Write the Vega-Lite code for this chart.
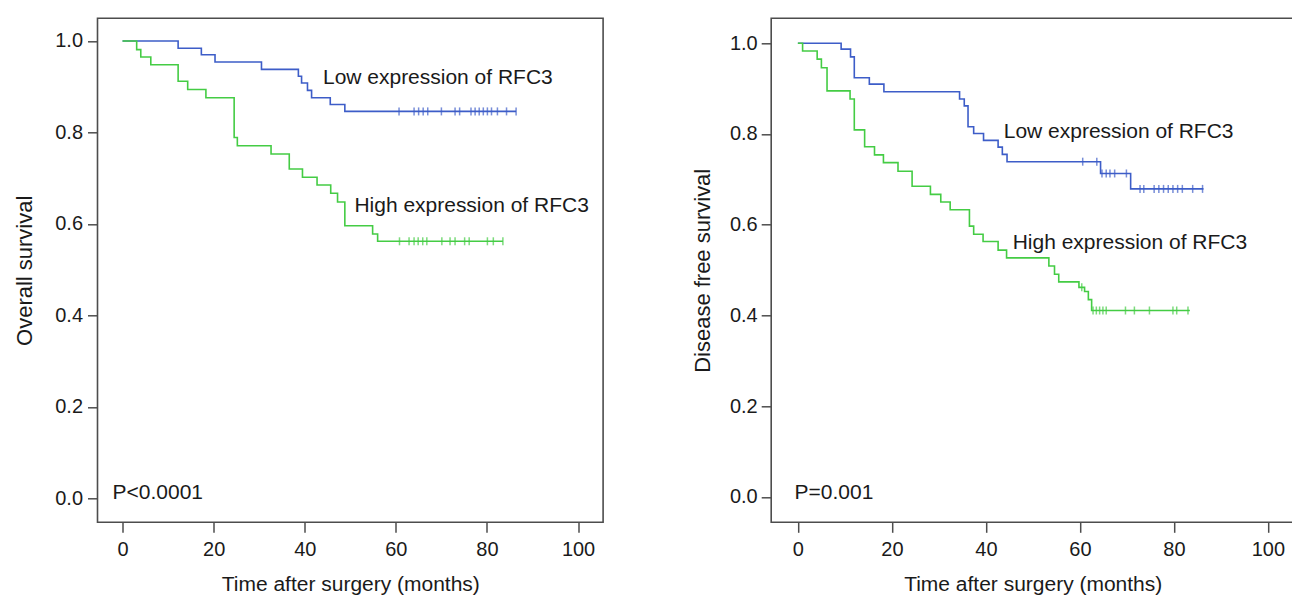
{
  "$schema": "https://vega.github.io/schema/vega-lite/v6.json",
  "background": "white",
  "padding": {"left": 12.5, "top": 17.3, "right": 0, "bottom": 0},
  "bounds": "flush",
  "spacing": 167.7,
  "config": {
    "font": "Liberation Sans",
    "view": {"stroke": "#4d4d4d", "strokeWidth": 1.6},
    "axis": {
      "domain": false, "grid": false,
      "tickColor": "#4d4d4d", "tickWidth": 1.5, "tickSize": 10,
      "labelFont": "Liberation Sans", "labelFontSize": 20, "labelColor": "#1a1a1a",
      "titleFont": "Liberation Sans", "titleFontSize": 21, "titleFontWeight": "normal", "titleColor": "#1a1a1a"
    }
  },
  "datasets": {
    "os_curve": [
      {"group": "Low", "t": 0, "s": 1.0}, {"group": "Low", "t": 12.2, "s": 0.984}, {"group": "Low", "t": 17.3, "s": 0.970},
      {"group": "Low", "t": 20.3, "s": 0.954}, {"group": "Low", "t": 30.5, "s": 0.938}, {"group": "Low", "t": 38.6, "s": 0.923},
      {"group": "Low", "t": 39.3, "s": 0.908}, {"group": "Low", "t": 40.6, "s": 0.892}, {"group": "Low", "t": 41.5, "s": 0.876},
      {"group": "Low", "t": 45.6, "s": 0.861}, {"group": "Low", "t": 48.8, "s": 0.846}, {"group": "Low", "t": 86.4, "s": 0.846},
      {"group": "High", "t": 0, "s": 1.0}, {"group": "High", "t": 3.1, "s": 0.981}, {"group": "High", "t": 4.0, "s": 0.965},
      {"group": "High", "t": 6.2, "s": 0.948}, {"group": "High", "t": 12.2, "s": 0.912}, {"group": "High", "t": 14.3, "s": 0.894},
      {"group": "High", "t": 18.3, "s": 0.876}, {"group": "High", "t": 24.5, "s": 0.789}, {"group": "High", "t": 25.2, "s": 0.771},
      {"group": "High", "t": 32.6, "s": 0.753}, {"group": "High", "t": 36.6, "s": 0.720}, {"group": "High", "t": 39.5, "s": 0.702},
      {"group": "High", "t": 42.7, "s": 0.685}, {"group": "High", "t": 45.7, "s": 0.667}, {"group": "High", "t": 47.2, "s": 0.648},
      {"group": "High", "t": 48.8, "s": 0.596}, {"group": "High", "t": 54.9, "s": 0.578}, {"group": "High", "t": 56.0, "s": 0.562},
      {"group": "High", "t": 83.5, "s": 0.562}
    ],
    "os_censor": [
      {"group": "Low", "t": 60.7, "s": 0.846}, {"group": "Low", "t": 64.0, "s": 0.846}, {"group": "Low", "t": 65.0, "s": 0.846},
      {"group": "Low", "t": 66.0, "s": 0.846}, {"group": "Low", "t": 67.0, "s": 0.846}, {"group": "Low", "t": 70.0, "s": 0.846},
      {"group": "Low", "t": 73.0, "s": 0.846}, {"group": "Low", "t": 74.0, "s": 0.846}, {"group": "Low", "t": 76.5, "s": 0.846},
      {"group": "Low", "t": 77.4, "s": 0.846}, {"group": "Low", "t": 78.3, "s": 0.846}, {"group": "Low", "t": 79.2, "s": 0.846},
      {"group": "Low", "t": 80.1, "s": 0.846}, {"group": "Low", "t": 81.0, "s": 0.846}, {"group": "Low", "t": 82.3, "s": 0.846},
      {"group": "Low", "t": 84.3, "s": 0.846}, {"group": "Low", "t": 86.4, "s": 0.846},
      {"group": "High", "t": 60.8, "s": 0.562}, {"group": "High", "t": 62.9, "s": 0.562}, {"group": "High", "t": 64.0, "s": 0.562},
      {"group": "High", "t": 64.9, "s": 0.562}, {"group": "High", "t": 65.9, "s": 0.562}, {"group": "High", "t": 66.8, "s": 0.562},
      {"group": "High", "t": 70.1, "s": 0.562}, {"group": "High", "t": 71.9, "s": 0.562}, {"group": "High", "t": 73.0, "s": 0.562},
      {"group": "High", "t": 75.1, "s": 0.562}, {"group": "High", "t": 76.1, "s": 0.562}, {"group": "High", "t": 80.1, "s": 0.562},
      {"group": "High", "t": 81.4, "s": 0.562}, {"group": "High", "t": 83.5, "s": 0.562}
    ],
    "os_text": [
      {"label": "Low expression of RFC3", "t": 44.0, "s": 0.905},
      {"label": "High expression of RFC3", "t": 50.9, "s": 0.625},
      {"label": "P<0.0001", "t": -2.2, "s": -0.002}
    ],
    "dfs_curve": [
      {"group": "Low", "t": 0, "s": 1.0}, {"group": "Low", "t": 9.2, "s": 0.987}, {"group": "Low", "t": 11.2, "s": 0.970},
      {"group": "Low", "t": 12.0, "s": 0.924}, {"group": "Low", "t": 15.2, "s": 0.910}, {"group": "Low", "t": 18.3, "s": 0.893},
      {"group": "Low", "t": 34.4, "s": 0.877}, {"group": "Low", "t": 35.4, "s": 0.862}, {"group": "Low", "t": 36.2, "s": 0.816},
      {"group": "Low", "t": 37.4, "s": 0.801}, {"group": "Low", "t": 39.5, "s": 0.786}, {"group": "Low", "t": 42.6, "s": 0.771},
      {"group": "Low", "t": 43.5, "s": 0.755}, {"group": "Low", "t": 44.5, "s": 0.739}, {"group": "Low", "t": 64.4, "s": 0.713},
      {"group": "Low", "t": 70.8, "s": 0.679}, {"group": "Low", "t": 86.3, "s": 0.679},
      {"group": "High", "t": 0, "s": 1.0}, {"group": "High", "t": 1.0, "s": 0.983}, {"group": "High", "t": 4.1, "s": 0.965},
      {"group": "High", "t": 5.0, "s": 0.946}, {"group": "High", "t": 6.2, "s": 0.895}, {"group": "High", "t": 11.1, "s": 0.877},
      {"group": "High", "t": 12.0, "s": 0.809}, {"group": "High", "t": 14.2, "s": 0.772}, {"group": "High", "t": 16.3, "s": 0.754},
      {"group": "High", "t": 18.2, "s": 0.737}, {"group": "High", "t": 21.3, "s": 0.718}, {"group": "High", "t": 24.3, "s": 0.685},
      {"group": "High", "t": 28.2, "s": 0.667}, {"group": "High", "t": 30.4, "s": 0.650}, {"group": "High", "t": 32.4, "s": 0.633},
      {"group": "High", "t": 36.5, "s": 0.597}, {"group": "High", "t": 37.4, "s": 0.579}, {"group": "High", "t": 39.4, "s": 0.563},
      {"group": "High", "t": 42.6, "s": 0.544}, {"group": "High", "t": 44.4, "s": 0.527}, {"group": "High", "t": 53.4, "s": 0.509},
      {"group": "High", "t": 54.6, "s": 0.491}, {"group": "High", "t": 55.5, "s": 0.474}, {"group": "High", "t": 59.8, "s": 0.462},
      {"group": "High", "t": 61.0, "s": 0.453}, {"group": "High", "t": 61.8, "s": 0.435}, {"group": "High", "t": 62.5, "s": 0.411},
      {"group": "High", "t": 83.4, "s": 0.411}
    ],
    "dfs_censor": [
      {"group": "Low", "t": 60.6, "s": 0.739}, {"group": "Low", "t": 63.6, "s": 0.739},
      {"group": "Low", "t": 64.7, "s": 0.713}, {"group": "Low", "t": 65.6, "s": 0.713}, {"group": "Low", "t": 66.4, "s": 0.713},
      {"group": "Low", "t": 67.4, "s": 0.713}, {"group": "Low", "t": 69.9, "s": 0.713},
      {"group": "Low", "t": 72.8, "s": 0.679}, {"group": "Low", "t": 73.6, "s": 0.679}, {"group": "Low", "t": 75.8, "s": 0.679},
      {"group": "Low", "t": 76.8, "s": 0.679}, {"group": "Low", "t": 77.8, "s": 0.679}, {"group": "Low", "t": 78.8, "s": 0.679},
      {"group": "Low", "t": 79.8, "s": 0.679}, {"group": "Low", "t": 80.8, "s": 0.679}, {"group": "Low", "t": 81.8, "s": 0.679},
      {"group": "Low", "t": 84.0, "s": 0.679}, {"group": "Low", "t": 86.1, "s": 0.679},
      {"group": "High", "t": 60.4, "s": 0.462},
      {"group": "High", "t": 62.8, "s": 0.411}, {"group": "High", "t": 63.5, "s": 0.411}, {"group": "High", "t": 64.2, "s": 0.411},
      {"group": "High", "t": 64.9, "s": 0.411}, {"group": "High", "t": 65.6, "s": 0.411}, {"group": "High", "t": 69.7, "s": 0.411},
      {"group": "High", "t": 71.6, "s": 0.411}, {"group": "High", "t": 74.8, "s": 0.411}, {"group": "High", "t": 79.8, "s": 0.411},
      {"group": "High", "t": 80.6, "s": 0.411}, {"group": "High", "t": 83.0, "s": 0.411}
    ],
    "dfs_text": [
      {"label": "Low expression of RFC3", "t": 43.8, "s": 0.792},
      {"label": "High expression of RFC3", "t": 45.7, "s": 0.546},
      {"label": "P=0.001", "t": -0.7, "s": -0.005}
    ]
  },
  "hconcat": [
    {
      "width": 505.6,
      "height": 504,
      "encoding": {
        "x": {"field": "t", "type": "quantitative",
          "scale": {"domain": [-5.5, 105.5], "nice": false, "zero": false},
          "axis": {"values": [0, 20, 40, 60, 80, 100], "labelPadding": 7, "titlePadding": 14, "title": "Time after surgery (months)"}},
        "y": {"field": "s", "type": "quantitative",
          "scale": {"domain": [-0.0525, 1.0496], "nice": false, "zero": false},
          "axis": {"values": [0, 0.2, 0.4, 0.6, 0.8, 1.0], "format": ".1f", "labelPadding": 5, "titlePadding": 18, "titleFontSize": 22, "title": "Overall survival"}}
      },
      "layer": [
        {
          "data": {"name": "os_curve"},
          "mark": {"type": "line", "interpolate": "step-after", "strokeWidth": 1.6},
          "encoding": {"color": {"field": "group", "type": "nominal", "scale": {"domain": ["Low", "High"], "range": ["#3D5DC8", "#44CC44"]}, "legend": null}}
        },
        {
          "data": {"name": "os_censor"},
          "mark": {"type": "tick", "orient": "vertical", "size": 8, "thickness": 1.5},
          "encoding": {"color": {"field": "group", "type": "nominal", "scale": {"domain": ["Low", "High"], "range": ["#3D5DC8", "#44CC44"]}, "legend": null}}
        },
        {
          "data": {"name": "os_text"},
          "mark": {"type": "text", "align": "left", "baseline": "alphabetic", "fontSize": 21, "color": "#1a1a1a"},
          "encoding": {"text": {"field": "label", "type": "nominal"}}
        }
      ]
    },
    {
      "width": 523,
      "height": 504,
      "encoding": {
        "x": {"field": "t", "type": "quantitative",
          "scale": {"domain": [-5.68, 105.6], "nice": false, "zero": false},
          "axis": {"values": [0, 20, 40, 60, 80, 100], "labelPadding": 7, "titlePadding": 14, "title": "Time after surgery (months)"}},
        "y": {"field": "s", "type": "quantitative",
          "scale": {"domain": [-0.0558, 1.055], "nice": false, "zero": false},
          "axis": {"values": [0, 0.2, 0.4, 0.6, 0.8, 1.0], "format": ".1f", "labelPadding": 4, "titlePadding": 15, "titleFontSize": 22, "title": "Disease free survival"}}
      },
      "layer": [
        {
          "data": {"name": "dfs_curve"},
          "mark": {"type": "line", "interpolate": "step-after", "strokeWidth": 1.6},
          "encoding": {"color": {"field": "group", "type": "nominal", "scale": {"domain": ["Low", "High"], "range": ["#3D5DC8", "#44CC44"]}, "legend": null}}
        },
        {
          "data": {"name": "dfs_censor"},
          "mark": {"type": "tick", "orient": "vertical", "size": 8, "thickness": 1.5},
          "encoding": {"color": {"field": "group", "type": "nominal", "scale": {"domain": ["Low", "High"], "range": ["#3D5DC8", "#44CC44"]}, "legend": null}}
        },
        {
          "data": {"name": "dfs_text"},
          "mark": {"type": "text", "align": "left", "baseline": "alphabetic", "fontSize": 21, "color": "#1a1a1a"},
          "encoding": {"text": {"field": "label", "type": "nominal"}}
        }
      ]
    }
  ]
}
